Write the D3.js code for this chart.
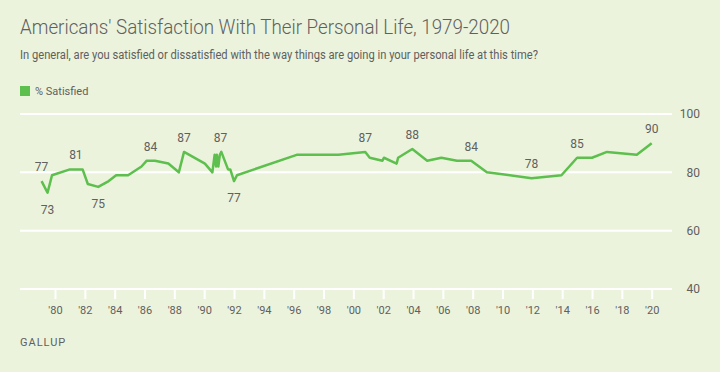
<!DOCTYPE html>
<html>
<head>
<meta charset="utf-8">
<script src="https://cdn.jsdelivr.net/npm/d3@7"></script>
<style>
  html, body { margin: 0; padding: 0; background: #ecf3dc; }
  svg { display: block; font-family: Roboto, "Noto Sans", sans-serif; }
</style>
</head>
<body>
<div id="chart"></div>
<script>
// survey dates (decimal years) and % satisfied
const years = [1979.1, 1979.5, 1979.8, 1981.0, 1981.85, 1982.2, 1982.9, 1983.6, 1984.1, 1984.9,
  1985.8, 1986.15, 1986.7, 1987.6, 1988.3, 1988.65, 1990.05, 1990.55, 1990.7, 1990.8,
  1990.85, 1990.95, 1991.05, 1991.15, 1991.6, 1991.75, 1992.0, 1992.2, 1996.2, 1999.0,
  2000.8, 2001.1, 2001.95, 2002.05, 2002.9, 2003.0, 2003.95, 2004.95, 2005.9, 2006.95,
  2007.9, 2008.95, 2011.95, 2013.95, 2015.0, 2016.0, 2017.0, 2019.0, 2020.0];
const satisfied = [77, 73, 79, 81, 81, 76, 75, 77, 79, 79,
  82, 84, 84, 83, 80, 87, 83, 80, 86, 82,
  86, 82, 86, 87, 81, 81, 77, 79, 86, 86,
  87, 85, 84, 85, 83, 85, 88, 84, 85, 84,
  84, 80, 78, 79, 85, 85, 87, 86, 90];

// point labels: year position, value, above/below
const labelYears = [1979.1, 1979.5, 1981.4, 1982.9, 1986.4, 1988.65, 1991.1, 1992.0, 2000.8, 2003.95, 2007.9, 2011.95, 2015.0, 2020.0];
const labelValues = [77, 73, 81, 75, 84, 87, 87, 77, 87, 88, 84, 78, 85, 90];
const labelBelow = [false, true, false, true, false, false, false, true, false, false, false, false, false, false];

const yTicks = [40, 60, 80, 100];
const xTicks = d3.range(1980, 2021, 2);

const title = "Americans' Satisfaction With Their Personal Life, 1979-2020";
const subtitle = "In general, are you satisfied or dissatisfied with the way things are going in your personal life at this time?";
const seriesName = "% Satisfied";

const width = 720, height = 372;
const green = "#5dbf4d";
const textColor = "#606060";

const svg = d3.select("#chart").append("svg")
  .attr("width", width)
  .attr("height", height);

svg.append("rect").attr("width", width).attr("height", height).attr("fill", "#ecf3dc");

const x = d3.scaleLinear().domain([1980, 2020]).range([55, 651.7]);
const y = d3.scaleLinear().domain([40, 100]).range([289, 114]);
const gridLeft = 20, gridRight = 672;

// titles
svg.append("text")
  .attr("x", 20).attr("y", 34)
  .attr("font-size", 19.5)
  .attr("font-weight", 300)
  .attr("fill", textColor)
  .attr("textLength", 490).attr("lengthAdjust", "spacingAndGlyphs")
  .text(title);

svg.append("text")
  .attr("x", 20).attr("y", 59)
  .attr("font-size", 12)
  .attr("fill", textColor)
  .attr("textLength", 518).attr("lengthAdjust", "spacingAndGlyphs")
  .text(subtitle);

// legend
svg.append("rect").attr("x", 20).attr("y", 86).attr("width", 10).attr("height", 10).attr("fill", green);
svg.append("text")
  .attr("x", 35).attr("y", 94.5)
  .attr("font-size", 11)
  .attr("fill", textColor)
  .text(seriesName);

// gridlines
svg.append("g").selectAll("line")
  .data(yTicks)
  .enter().append("line")
    .attr("x1", gridLeft).attr("x2", gridRight)
    .attr("y1", d => y(d)).attr("y2", d => y(d))
    .attr("stroke", "#fff")
    .attr("stroke-width", 2);

// y axis labels on the right
const yAxis = svg.append("g")
  .attr("transform", "translate(700,0)")
  .call(d3.axisLeft(y).tickValues(yTicks).tickSize(0).tickPadding(0));
yAxis.select(".domain").remove();
yAxis.selectAll("text")
  .attr("font-family", "Roboto, sans-serif")
  .attr("font-size", 12)
  .attr("fill", textColor);

// x axis
const xAxis = svg.append("g")
  .attr("transform", "translate(0," + y(40) + ")")
  .call(d3.axisBottom(x).tickValues(xTicks).tickSize(10).tickPadding(7)
    .tickFormat(d => "'" + String(d).slice(2)));
xAxis.select(".domain").remove();
xAxis.selectAll("line").attr("stroke", "#fff").attr("stroke-width", 2);
xAxis.selectAll("text")
  .attr("font-family", "Roboto, sans-serif")
  .attr("font-size", 11)
  .attr("fill", textColor);

// line
const pts = years.map((yr, i) => [yr, satisfied[i]]);
const line = d3.line().x(d => x(d[0])).y(d => y(d[1]));
svg.append("path")
  .datum(pts)
  .attr("d", line)
  .attr("fill", "none")
  .attr("stroke", green)
  .attr("stroke-width", 2.5)
  .attr("stroke-linejoin", "round");

// value labels
svg.append("g").selectAll("text")
  .data(labelYears.map((yr, i) => ({yr: yr, v: labelValues[i], below: labelBelow[i]})))
  .enter().append("text")
    .attr("x", d => x(d.yr))
    .attr("y", d => d.below ? y(d.v) + 21 : y(d.v) - 10)
    .attr("text-anchor", "middle")
    .attr("font-size", 12)
    .attr("fill", textColor)
    .text(d => d.v);

svg.append("text")
  .attr("x", 20).attr("y", 346)
  .attr("font-size", 11)
  .attr("letter-spacing", 1)
  .attr("fill", textColor)
  .text("GALLUP");
</script>
</body>
</html>
